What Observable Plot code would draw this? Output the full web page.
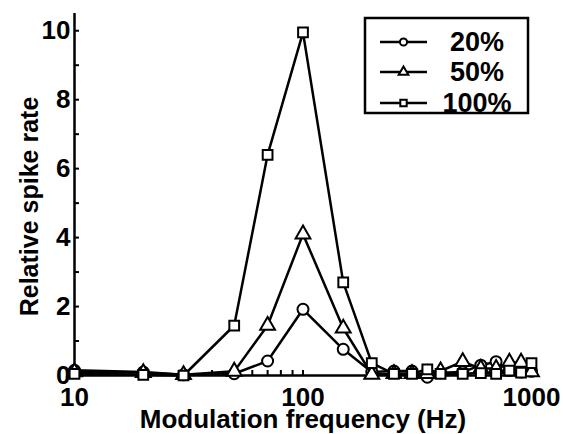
<!DOCTYPE html>
<html>
<head>
<meta charset="utf-8">
<script src="https://cdn.jsdelivr.net/npm/d3@7"></script>
<script src="https://cdn.jsdelivr.net/npm/@observablehq/plot@0.6"></script>
<style>
  html, body { margin: 0; padding: 0; background: #fff; }
  #wrap { position: relative; width: 563px; height: 434px; }
  #legend { position: absolute; left: 0; top: 0; }
</style>
</head>
<body>
<div id="wrap"></div>
<script>
// Data
const freqs = [10, 20, 30, 50, 70, 100, 150, 200, 250, 300, 350, 400, 500, 600, 700, 800, 900, 1000];
const rate20  = [0.15, 0.10, 0.02, 0.05, 0.42, 1.92, 0.76, 0.10, 0.13, 0.13, -0.05, 0.08, 0.10, 0.30, 0.40, 0.15, 0.10, 0.12];
const rate50  = [0.10, 0.08, 0.02, 0.12, 1.45, 4.10, 1.37, 0.03, 0.05, 0.05, 0.05, 0.13, 0.40, 0.20, 0.20, 0.38, 0.38, 0.10];
const rate100 = [0.05, 0.02, 0.00, 1.45, 6.40, 9.95, 2.70, 0.36, 0.05, 0.05, 0.18, 0.05, 0.05, 0.07, 0.05, 0.14, 0.08, 0.36];
const seriesNames = ["20%", "50%", "100%"];
const seriesSymbols = ["circle", "triangle", "square"];
const seriesValues = [rate20, rate50, rate100];
const yMajorTicks = [0, 2, 4, 6, 8, 10];
const yMinorTicks = [1, 3, 5, 7, 9];
const xMajorTicks = [10, 100, 1000];
const xMinorTicks = [20, 30, 40, 50, 60, 70, 80, 90, 200, 300, 400, 500, 600, 700, 800, 900];
const xTitle = "Modulation frequency (Hz)";
const yTitle = "Relative spike rate";

const rows = seriesNames.flatMap((name, i) =>
  freqs.map((f, j) => ({ series: name, symbol: seriesSymbols[i], freq: f, rate: seriesValues[i][j] })));

const font = "'Liberation Sans', Arial, sans-serif";
const seriesMarks = seriesNames.flatMap((name) => {
  const d = rows.filter(r => r.series === name);
  return [
    Plot.line(d, { x: "freq", y: "rate", stroke: "black", strokeWidth: 2.5 }),
    Plot.dot(d, { x: "freq", y: "rate", symbol: "symbol", r: 5.5, fill: "white", stroke: "black", strokeWidth: 2 })
  ];
});

const chart = Plot.plot({
  width: 563,
  height: 434,
  marginLeft: 74,
  marginRight: 32,
  marginTop: 13,
  marginBottom: 59,
  style: { fontFamily: font, background: "white", color: "black" },
  x: { type: "log", domain: [10, 1000] },
  y: { domain: [0, 10.5] },
  symbol: { type: "identity" },
  marks: [
    Plot.axisY(yMajorTicks, { tickSize: 0, tickPadding: 4, fontSize: 26, fontWeight: "bold", label: null }),
    Plot.axisY(yMajorTicks.concat(yMinorTicks), { tickSize: -5, text: null, strokeWidth: 2, label: null }),
    Plot.axisX(xMajorTicks, { tickSize: 0, tickPadding: 12, fontSize: 26, fontWeight: "bold", label: null, tickFormat: d => String(d) }),
    Plot.axisX(xMajorTicks.concat(xMinorTicks), { tickSize: -5, text: null, strokeWidth: 2, label: null }),
    Plot.ruleX([10], { strokeWidth: 2.5 }),
    Plot.ruleY([0], { strokeWidth: 2.5 }),
    ...seriesMarks,
    Plot.text([xTitle], { text: d => d, frameAnchor: "bottom", dy: 52, fontSize: 26, fontWeight: "bold" }),
    Plot.text([yTitle], { text: d => d, frameAnchor: "left", textAnchor: "middle", rotate: -90, dx: -45, dy: 12, fontSize: 25, fontWeight: "bold" })
  ]
});
document.getElementById("wrap").appendChild(chart);

// Legend (overlay, drawn with d3)
const lg = d3.select("#wrap").append("svg").attr("id", "legend")
  .attr("width", 563).attr("height", 434).style("pointer-events", "none");
lg.append("rect").attr("x", 365).attr("y", 18).attr("width", 163).attr("height", 95)
  .attr("fill", "white").attr("stroke", "black").attr("stroke-width", 2.5);
const symMap = { circle: d3.symbolCircle, triangle: d3.symbolTriangle, square: d3.symbolSquare };
const rowY = [42, 72, 103];
seriesNames.forEach((name, i) => {
  const g = lg.append("g").attr("transform", `translate(0,${rowY[i]})`);
  g.append("line").attr("x1", 380).attr("x2", 427).attr("y1", 0).attr("y2", 0)
    .attr("stroke", "black").attr("stroke-width", 2.5);
  g.append("path").attr("transform", "translate(403.5,0)")
    .attr("d", d3.symbol(symMap[seriesSymbols[i]], Math.PI * 3.6 * 3.6)())
    .attr("fill", "white").attr("stroke", "black").attr("stroke-width", 2);
  g.append("text").attr("x", 477).attr("y", 0).attr("dy", "0.35em")
    .attr("text-anchor", "middle").attr("font-family", font).attr("font-weight", "bold")
    .attr("font-size", 27).text(name);
});
</script>
</body>
</html>
